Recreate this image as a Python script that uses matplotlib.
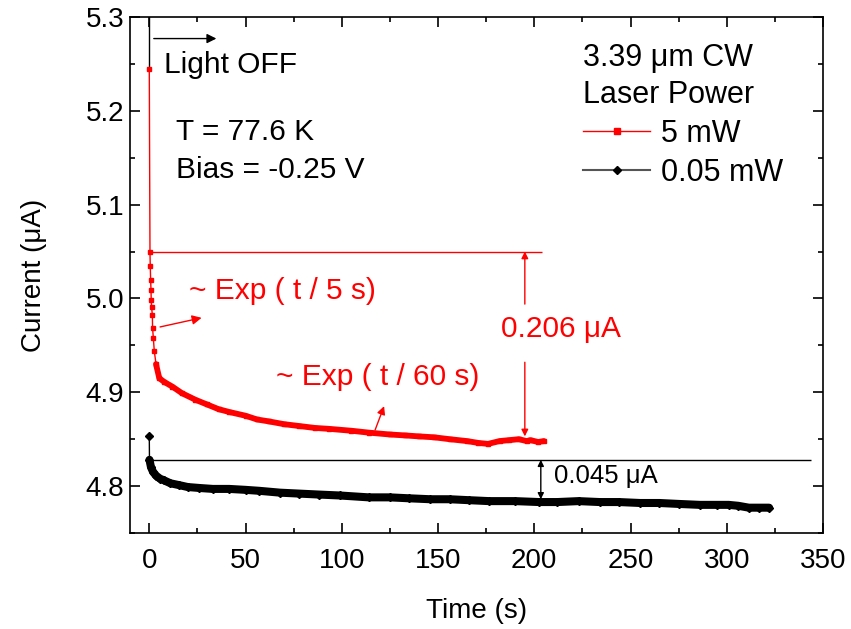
import matplotlib
matplotlib.use("Agg")
import matplotlib.pyplot as plt
from matplotlib.lines import Line2D
from matplotlib.ticker import MultipleLocator, FormatStrFormatter

plt.rcParams['font.family'] = ['Liberation Sans', 'DejaVu Sans']

# 5 mW trace
t_5mw = [0.0, 0.36, 0.5, 0.7, 0.9, 1.0, 1.2, 1.6, 1.7, 2.1, 2.6, 3.5, 5.2, 7.8,
         12, 17, 24, 30, 36, 41.5, 50, 56, 62, 70, 78, 86, 93.5, 105, 114, 125,
         133, 140, 148, 156, 165, 171, 176, 182, 187, 192, 196, 198, 202, 205]
i_5mw = [5.245, 5.05, 5.035, 5.02, 5.009, 4.998, 4.991, 4.982, 4.969, 4.958,
         4.944, 4.930, 4.915, 4.911, 4.906, 4.899, 4.892, 4.887, 4.882, 4.879,
         4.875, 4.871, 4.869, 4.866, 4.864, 4.862, 4.861, 4.859, 4.857, 4.855,
         4.854, 4.853, 4.852, 4.850, 4.848, 4.846, 4.845, 4.848, 4.849, 4.850,
         4.848, 4.849, 4.847, 4.848]

# 0.05 mW trace
t_005mw = [0, 0.1, 0.9, 2, 3.6, 5.5, 7.8, 11, 15.6, 20, 26, 33, 41.5, 50, 57,
           68, 78, 88, 99, 114, 125, 135, 146, 156, 166, 176.5, 190, 202.5,
           212, 223, 234, 244, 255, 265, 275, 286, 295, 301, 306, 311.5, 317, 322]
i_005mw = [4.853, 4.828, 4.820, 4.815, 4.811, 4.808, 4.806, 4.803, 4.801, 4.799,
           4.798, 4.797, 4.797, 4.796, 4.795, 4.793, 4.792, 4.791, 4.790, 4.788,
           4.788, 4.787, 4.786, 4.786, 4.785, 4.784, 4.784, 4.783, 4.783, 4.784,
           4.783, 4.783, 4.782, 4.782, 4.781, 4.780, 4.780, 4.780, 4.779, 4.777,
           4.777, 4.777]

level_5mw = 5.05
level_005mw = 4.828

RED = '#ff0000'
FS = 20      # ticks / axis labels
FA = 21.5    # annotations

fig = plt.figure(figsize=(8.51, 6.29), dpi=100)
ax = fig.add_axes([0.1528, 0.1526, 0.8143, 0.8204])

# red: thin line + markers, dense part drawn as a band
ax.plot(t_5mw, i_5mw, color=RED, lw=1, marker='s', ms=3, mec=RED, mfc=RED, zorder=3)
ax.plot(t_5mw[11:], i_5mw[11:], color=RED, lw=4.2, solid_capstyle='round', zorder=3)

ax.plot(t_005mw, i_005mw, color='black', lw=1, marker='D', ms=4, zorder=3)
ax.plot(t_005mw[1:], i_005mw[1:], color='black', lw=5.8, solid_capstyle='round', zorder=3)

# light-off marker
ax.vlines(0, i_5mw[0], 5.31, color='black', lw=1, zorder=2)
ax.annotate('', xy=(36.3, 5.277), xytext=(0.9, 5.277),
            arrowprops=dict(arrowstyle='-|>', color='black', lw=1, mutation_scale=14))
ax.text(7.8, 5.249, 'Light OFF', fontsize=FA, va='center', ha='left')
ax.text(13.9, 5.177, 'T = 77.6 K', fontsize=FA, va='center', ha='left')
ax.text(13.9, 5.137, 'Bias = -0.25 V', fontsize=FA, va='center', ha='left')

# levels
ax.hlines(level_5mw, 0, 204, color=RED, lw=1, zorder=2)
ax.hlines(level_005mw, 0, 343.7, color='black', lw=1, zorder=2)

# time constants
ax.text(20.8, 5.008, '~ Exp ( t / 5 s)', fontsize=FA, color=RED, va='center', ha='left')
ax.annotate('', xy=(28.6, 4.980), xytext=(4.2, 4.969),
            arrowprops=dict(arrowstyle='-|>', color=RED, lw=1, mutation_scale=14))
ax.text(66, 4.916, '~ Exp ( t / 60 s)', fontsize=FA, color=RED, va='center', ha='left')
ax.annotate('', xy=(122.5, 4.888), xytext=(116.8, 4.857),
            arrowprops=dict(arrowstyle='-|>', color=RED, lw=1, mutation_scale=12))

# 0.206 uA difference
ax.annotate('', xy=(195.1, level_5mw), xytext=(195.1, 4.994),
            arrowprops=dict(arrowstyle='-|>', color=RED, lw=1, mutation_scale=10,
                            shrinkA=0, shrinkB=0))
ax.annotate('', xy=(195.1, 4.853), xytext=(195.1, 4.932),
            arrowprops=dict(arrowstyle='-|>', color=RED, lw=1, mutation_scale=10,
                            shrinkA=0, shrinkB=0))
ax.text(213.7, 4.967, '0.206 \u03bcA', fontsize=FA, color=RED, va='center', ha='center')

# 0.045 uA difference
ax.annotate('', xy=(203.4, level_005mw), xytext=(203.4, 4.786),
            arrowprops=dict(arrowstyle='<|-|>', color='black', lw=1, mutation_scale=9,
                            shrinkA=0, shrinkB=0))
ax.text(210.3, 4.811, '0.045 \u03bcA', fontsize=18.5, va='center', ha='left')

# legend
handles = [Line2D([], [], color=RED, lw=1, marker='s', ms=4),
           Line2D([], [], color='#555555', lw=1.5, marker='D', ms=4, mfc='black', mec='black')]
leg = ax.legend(handles, ['5 mW', '0.05 mW'], title='3.39 \u03bcm CW\nLaser Power',
                loc='upper left', bbox_to_anchor=(0.645, 0.962), frameon=False,
                fontsize=22, title_fontsize=22, alignment='left', handlelength=2.2,
                handletextpad=0.35, labelspacing=0.3, borderaxespad=0, borderpad=0.2)
leg.get_title().set_linespacing(1.3)

ax.set_xlim(-10, 350)
ax.set_ylim(4.75, 5.3)
ax.xaxis.set_major_locator(MultipleLocator(50))
ax.xaxis.set_minor_locator(MultipleLocator(25))
ax.yaxis.set_major_locator(MultipleLocator(0.1))
ax.yaxis.set_minor_locator(MultipleLocator(0.05))
ax.yaxis.set_major_formatter(FormatStrFormatter('%.1f'))
ax.tick_params(which='both', direction='in', top=True, right=True, width=1.2)
ax.tick_params(which='major', length=7, labelsize=FS)
ax.tick_params(which='minor', length=3.5)
ax.tick_params(axis='x', pad=11)
ax.tick_params(axis='y', pad=4)
for s in ax.spines.values():
    s.set_linewidth(1.2)

ax.set_xlabel('Time (s)', fontsize=FS)
ax.set_ylabel('Current (\u03bcA)', fontsize=FS)
ax.xaxis.set_label_coords(0.5, -0.125)
ax.yaxis.set_label_coords(-0.12, 0.5)

fig.savefig('out.png', dpi=100)
